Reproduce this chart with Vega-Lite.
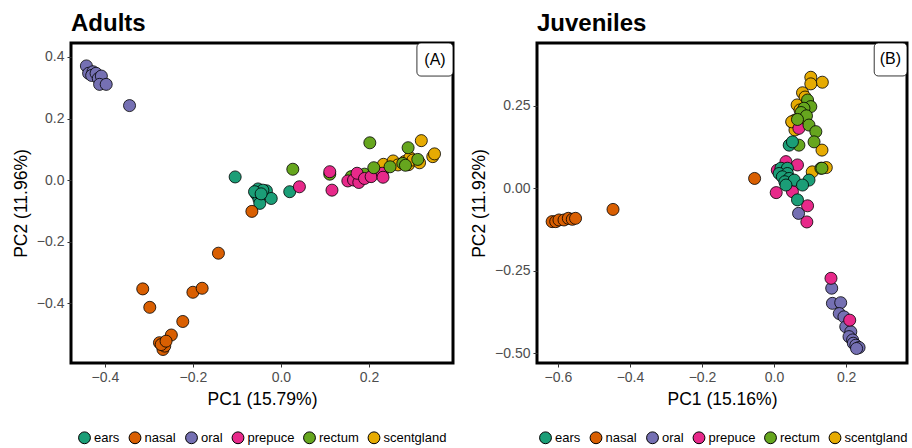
{
  "$schema": "https://vega.github.io/schema/vega-lite/v6.json",
  "background": "white",
  "padding": {"left": 10, "top": 10, "right": 2, "bottom": 2},
  "config": {
    "font": "Liberation Sans",
    "view": {"stroke": "black", "strokeWidth": 3},
    "axis": {"grid": false, "domain": false, "tickColor": "#333333", "tickSize": 4, "tickWidth": 1, "labelColor": "#4D4D4D", "labelFontSize": 14, "labelPadding": 3, "titleFontSize": 17.5, "titleFontWeight": "normal", "titleColor": "black", "titlePadding": 6},
    "title": {"fontSize": 24, "fontWeight": "bold", "anchor": "start", "frame": "group", "offset": 7, "color": "black"},
    "legend": {"orient": "none", "direction": "horizontal", "symbolType": "circle", "symbolSize": 140, "symbolStrokeColor": "black", "symbolStrokeWidth": 1, "symbolOpacity": 1, "labelFontSize": 13, "labelColor": "black", "columnPadding": 6.5, "labelOffset": 3},
    "concat": {"spacing": 14}
  },
  "datasets": {
    "adults": [
      {"group": "ears", "PC1": -0.104, "PC2": 0.010},
      {"group": "ears", "PC1": -0.052, "PC2": -0.029},
      {"group": "ears", "PC1": -0.033, "PC2": -0.035},
      {"group": "ears", "PC1": -0.056, "PC2": -0.046},
      {"group": "ears", "PC1": -0.050, "PC2": -0.062},
      {"group": "ears", "PC1": -0.048, "PC2": -0.076},
      {"group": "ears", "PC1": -0.022, "PC2": -0.060},
      {"group": "ears", "PC1": 0.020, "PC2": -0.038},
      {"group": "ears", "PC1": -0.041, "PC2": -0.033},
      {"group": "ears", "PC1": -0.060, "PC2": -0.038},
      {"group": "ears", "PC1": -0.045, "PC2": -0.045},
      {"group": "nasal", "PC1": -0.066, "PC2": -0.102},
      {"group": "nasal", "PC1": -0.142, "PC2": -0.238},
      {"group": "nasal", "PC1": -0.314, "PC2": -0.354},
      {"group": "nasal", "PC1": -0.298, "PC2": -0.414},
      {"group": "nasal", "PC1": -0.200, "PC2": -0.365},
      {"group": "nasal", "PC1": -0.179, "PC2": -0.352},
      {"group": "nasal", "PC1": -0.223, "PC2": -0.460},
      {"group": "nasal", "PC1": -0.249, "PC2": -0.504},
      {"group": "nasal", "PC1": -0.276, "PC2": -0.529},
      {"group": "nasal", "PC1": -0.268, "PC2": -0.551},
      {"group": "nasal", "PC1": -0.264, "PC2": -0.540},
      {"group": "nasal", "PC1": -0.272, "PC2": -0.535},
      {"group": "nasal", "PC1": -0.261, "PC2": -0.524},
      {"group": "oral", "PC1": -0.442, "PC2": 0.371},
      {"group": "oral", "PC1": -0.437, "PC2": 0.347},
      {"group": "oral", "PC1": -0.427, "PC2": 0.352},
      {"group": "oral", "PC1": -0.430, "PC2": 0.340},
      {"group": "oral", "PC1": -0.420, "PC2": 0.347},
      {"group": "oral", "PC1": -0.415, "PC2": 0.330},
      {"group": "oral", "PC1": -0.408, "PC2": 0.338},
      {"group": "oral", "PC1": -0.412, "PC2": 0.311},
      {"group": "oral", "PC1": -0.397, "PC2": 0.311},
      {"group": "oral", "PC1": -0.344, "PC2": 0.242},
      {"group": "rectum", "PC1": 0.027, "PC2": 0.035},
      {"group": "rectum", "PC1": 0.202, "PC2": 0.121},
      {"group": "rectum", "PC1": 0.111, "PC2": 0.019},
      {"group": "rectum", "PC1": 0.160, "PC2": 0.011},
      {"group": "rectum", "PC1": 0.190, "PC2": 0.019},
      {"group": "scentgland", "PC1": 0.233, "PC2": 0.051},
      {"group": "scentgland", "PC1": 0.255, "PC2": 0.062},
      {"group": "scentgland", "PC1": 0.266, "PC2": 0.049},
      {"group": "scentgland", "PC1": 0.281, "PC2": 0.060},
      {"group": "scentgland", "PC1": 0.290, "PC2": 0.050},
      {"group": "scentgland", "PC1": 0.293, "PC2": 0.073},
      {"group": "scentgland", "PC1": 0.300, "PC2": 0.065},
      {"group": "scentgland", "PC1": 0.315, "PC2": 0.056},
      {"group": "scentgland", "PC1": 0.319, "PC2": 0.128},
      {"group": "scentgland", "PC1": 0.345, "PC2": 0.076},
      {"group": "scentgland", "PC1": 0.349, "PC2": 0.085},
      {"group": "prepuce", "PC1": 0.042, "PC2": -0.022},
      {"group": "prepuce", "PC1": 0.111, "PC2": 0.027},
      {"group": "prepuce", "PC1": 0.116, "PC2": -0.033},
      {"group": "prepuce", "PC1": 0.152, "PC2": -0.003},
      {"group": "prepuce", "PC1": 0.165, "PC2": 0.000},
      {"group": "prepuce", "PC1": 0.177, "PC2": -0.008},
      {"group": "prepuce", "PC1": 0.173, "PC2": 0.022},
      {"group": "prepuce", "PC1": 0.190, "PC2": 0.005},
      {"group": "prepuce", "PC1": 0.205, "PC2": 0.011},
      {"group": "prepuce", "PC1": 0.230, "PC2": 0.022},
      {"group": "prepuce", "PC1": 0.232, "PC2": 0.009},
      {"group": "rectum", "PC1": 0.211, "PC2": 0.040},
      {"group": "rectum", "PC1": 0.248, "PC2": 0.043},
      {"group": "rectum", "PC1": 0.277, "PC2": 0.054},
      {"group": "rectum", "PC1": 0.283, "PC2": 0.048},
      {"group": "rectum", "PC1": 0.289, "PC2": 0.105},
      {"group": "rectum", "PC1": 0.311, "PC2": 0.067}
    ],
    "juveniles": [
      {"group": "nasal", "PC1": -0.616, "PC2": -0.101},
      {"group": "nasal", "PC1": -0.606, "PC2": -0.101},
      {"group": "nasal", "PC1": -0.597, "PC2": -0.096},
      {"group": "nasal", "PC1": -0.583, "PC2": -0.096},
      {"group": "nasal", "PC1": -0.571, "PC2": -0.091},
      {"group": "nasal", "PC1": -0.560, "PC2": -0.094},
      {"group": "nasal", "PC1": -0.551, "PC2": -0.091},
      {"group": "nasal", "PC1": -0.447, "PC2": -0.064},
      {"group": "nasal", "PC1": -0.054, "PC2": 0.030},
      {"group": "oral", "PC1": 0.068, "PC2": -0.076},
      {"group": "oral", "PC1": 0.160, "PC2": -0.303},
      {"group": "oral", "PC1": 0.162, "PC2": -0.349},
      {"group": "oral", "PC1": 0.185, "PC2": -0.347},
      {"group": "oral", "PC1": 0.181, "PC2": -0.380},
      {"group": "oral", "PC1": 0.194, "PC2": -0.390},
      {"group": "oral", "PC1": 0.199, "PC2": -0.420},
      {"group": "oral", "PC1": 0.213, "PC2": -0.435},
      {"group": "oral", "PC1": 0.208, "PC2": -0.450},
      {"group": "oral", "PC1": 0.218, "PC2": -0.460},
      {"group": "oral", "PC1": 0.220, "PC2": -0.470},
      {"group": "oral", "PC1": 0.227, "PC2": -0.476},
      {"group": "oral", "PC1": 0.236, "PC2": -0.483},
      {"group": "oral", "PC1": 0.229, "PC2": -0.486},
      {"group": "prepuce", "PC1": 0.158, "PC2": -0.273},
      {"group": "prepuce", "PC1": 0.210, "PC2": -0.400},
      {"group": "scentgland", "PC1": 0.102, "PC2": 0.337},
      {"group": "scentgland", "PC1": 0.134, "PC2": 0.322},
      {"group": "scentgland", "PC1": 0.102, "PC2": 0.317},
      {"group": "scentgland", "PC1": 0.079, "PC2": 0.290},
      {"group": "scentgland", "PC1": 0.086, "PC2": 0.277},
      {"group": "scentgland", "PC1": 0.064, "PC2": 0.253},
      {"group": "scentgland", "PC1": 0.072, "PC2": 0.238},
      {"group": "scentgland", "PC1": 0.058, "PC2": 0.207},
      {"group": "scentgland", "PC1": 0.069, "PC2": 0.192},
      {"group": "scentgland", "PC1": 0.050, "PC2": 0.201},
      {"group": "scentgland", "PC1": 0.058, "PC2": 0.177},
      {"group": "scentgland", "PC1": 0.049, "PC2": 0.202},
      {"group": "scentgland", "PC1": 0.088, "PC2": 0.202},
      {"group": "scentgland", "PC1": 0.133, "PC2": 0.116},
      {"group": "scentgland", "PC1": 0.106, "PC2": 0.050},
      {"group": "scentgland", "PC1": 0.145, "PC2": 0.063},
      {"group": "prepuce", "PC1": 0.069, "PC2": 0.182},
      {"group": "rectum", "PC1": 0.093, "PC2": 0.268},
      {"group": "rectum", "PC1": 0.102, "PC2": 0.248},
      {"group": "rectum", "PC1": 0.083, "PC2": 0.243},
      {"group": "rectum", "PC1": 0.075, "PC2": 0.230},
      {"group": "rectum", "PC1": 0.090, "PC2": 0.220},
      {"group": "rectum", "PC1": 0.065, "PC2": 0.209},
      {"group": "rectum", "PC1": 0.097, "PC2": 0.192},
      {"group": "rectum", "PC1": 0.116, "PC2": 0.172},
      {"group": "rectum", "PC1": 0.111, "PC2": 0.141},
      {"group": "rectum", "PC1": 0.069, "PC2": 0.131},
      {"group": "rectum", "PC1": 0.130, "PC2": 0.061},
      {"group": "ears", "PC1": 0.042, "PC2": 0.131},
      {"group": "ears", "PC1": 0.051, "PC2": 0.141},
      {"group": "prepuce", "PC1": 0.033, "PC2": 0.081},
      {"group": "prepuce", "PC1": 0.065, "PC2": 0.071},
      {"group": "prepuce", "PC1": 0.009, "PC2": 0.055},
      {"group": "prepuce", "PC1": 0.006, "PC2": -0.013},
      {"group": "prepuce", "PC1": 0.051, "PC2": -0.010},
      {"group": "prepuce", "PC1": 0.093, "PC2": -0.053},
      {"group": "prepuce", "PC1": 0.091, "PC2": -0.102},
      {"group": "ears", "PC1": 0.019, "PC2": 0.061},
      {"group": "ears", "PC1": 0.037, "PC2": 0.061},
      {"group": "ears", "PC1": 0.014, "PC2": 0.045},
      {"group": "ears", "PC1": 0.037, "PC2": 0.045},
      {"group": "ears", "PC1": 0.023, "PC2": 0.035},
      {"group": "ears", "PC1": 0.042, "PC2": 0.030},
      {"group": "ears", "PC1": 0.030, "PC2": 0.020},
      {"group": "ears", "PC1": 0.056, "PC2": 0.025},
      {"group": "ears", "PC1": 0.033, "PC2": 0.010},
      {"group": "ears", "PC1": 0.097, "PC2": 0.025},
      {"group": "ears", "PC1": 0.079, "PC2": 0.010},
      {"group": "ears", "PC1": 0.065, "PC2": -0.035},
      {"group": "rectum", "PC1": 0.133, "PC2": 0.061}
    ]
  },
  "hconcat": [
    {
      "width": 382,
      "height": 320,
      "title": {"text": "Adults"},
      "layer": [
        {
          "data": {"name": "adults"},
          "mark": {"type": "point", "filled": true, "shape": "circle", "size": 145, "stroke": "black", "strokeWidth": 0.8, "opacity": 1},
          "encoding": {
            "x": {"field": "PC1", "type": "quantitative", "scale": {"domain": [-0.477, 0.391], "nice": false, "zero": false}, "axis": {"values": [-0.4, -0.2, 0, 0.2], "format": ".1f", "title": "PC1 (15.79%)"}},
            "y": {"field": "PC2", "type": "quantitative", "scale": {"domain": [-0.595, 0.4455], "nice": false, "zero": false}, "axis": {"values": [-0.4, -0.2, 0, 0.2, 0.4], "format": ".1f", "title": "PC2 (11.96%)"}},
            "color": {"field": "group", "type": "nominal", "scale": {"domain": ["ears", "nasal", "oral", "prepuce", "rectum", "scentgland"], "range": ["#1B9E77", "#D95F02", "#7570B3", "#E7298A", "#66A61E", "#E6AB02"]}, "legend": {"title": null, "legendX": 7, "legendY": 388}}
          }
        },
        {
          "data": {"values": [{"label": "(A)"}]},
          "mark": {"type": "rect", "fill": "white", "stroke": "black", "strokeWidth": 0.8, "cornerRadius": 4},
          "encoding": {"x": {"datum": 0.309}, "x2": {"datum": 0.391}, "y": {"datum": 0.338}, "y2": {"datum": 0.4455}}
        },
        {
          "data": {"values": [{"label": "(A)"}]},
          "mark": {"type": "text", "fontSize": 16, "color": "black", "baseline": "middle", "align": "center"},
          "encoding": {"text": {"field": "label"}, "x": {"datum": 0.35}, "y": {"datum": 0.391}}
        }
      ]
    },
    {
      "width": 370,
      "height": 320,
      "title": {"text": "Juveniles"},
      "layer": [
        {
          "data": {"name": "juveniles"},
          "mark": {"type": "point", "filled": true, "shape": "circle", "size": 145, "stroke": "black", "strokeWidth": 0.8, "opacity": 1},
          "encoding": {
            "x": {"field": "PC1", "type": "quantitative", "scale": {"domain": [-0.658, 0.369], "nice": false, "zero": false}, "axis": {"values": [-0.6, -0.4, -0.2, 0, 0.2], "format": ".1f", "title": "PC1 (15.16%)"}},
            "y": {"field": "PC2", "type": "quantitative", "scale": {"domain": [-0.530, 0.441], "nice": false, "zero": false}, "axis": {"values": [-0.5, -0.25, 0, 0.25], "format": ".2f", "title": "PC2 (11.92%)"}},
            "color": {"field": "group", "type": "nominal", "scale": {"domain": ["ears", "nasal", "oral", "prepuce", "rectum", "scentgland"], "range": ["#1B9E77", "#D95F02", "#7570B3", "#E7298A", "#66A61E", "#E6AB02"]}, "legend": {"title": null, "legendX": 2, "legendY": 388}}
          }
        },
        {
          "data": {"values": [{"label": "(B)"}]},
          "mark": {"type": "rect", "fill": "white", "stroke": "black", "strokeWidth": 0.8, "cornerRadius": 4},
          "encoding": {"x": {"datum": 0.278}, "x2": {"datum": 0.369}, "y": {"datum": 0.341}, "y2": {"datum": 0.441}}
        },
        {
          "data": {"values": [{"label": "(B)"}]},
          "mark": {"type": "text", "fontSize": 16, "color": "black", "baseline": "middle", "align": "center"},
          "encoding": {"text": {"field": "label"}, "x": {"datum": 0.323}, "y": {"datum": 0.391}}
        }
      ]
    }
  ],
  "resolve": {"scale": {"color": "independent"}, "legend": {"color": "independent"}}
}
